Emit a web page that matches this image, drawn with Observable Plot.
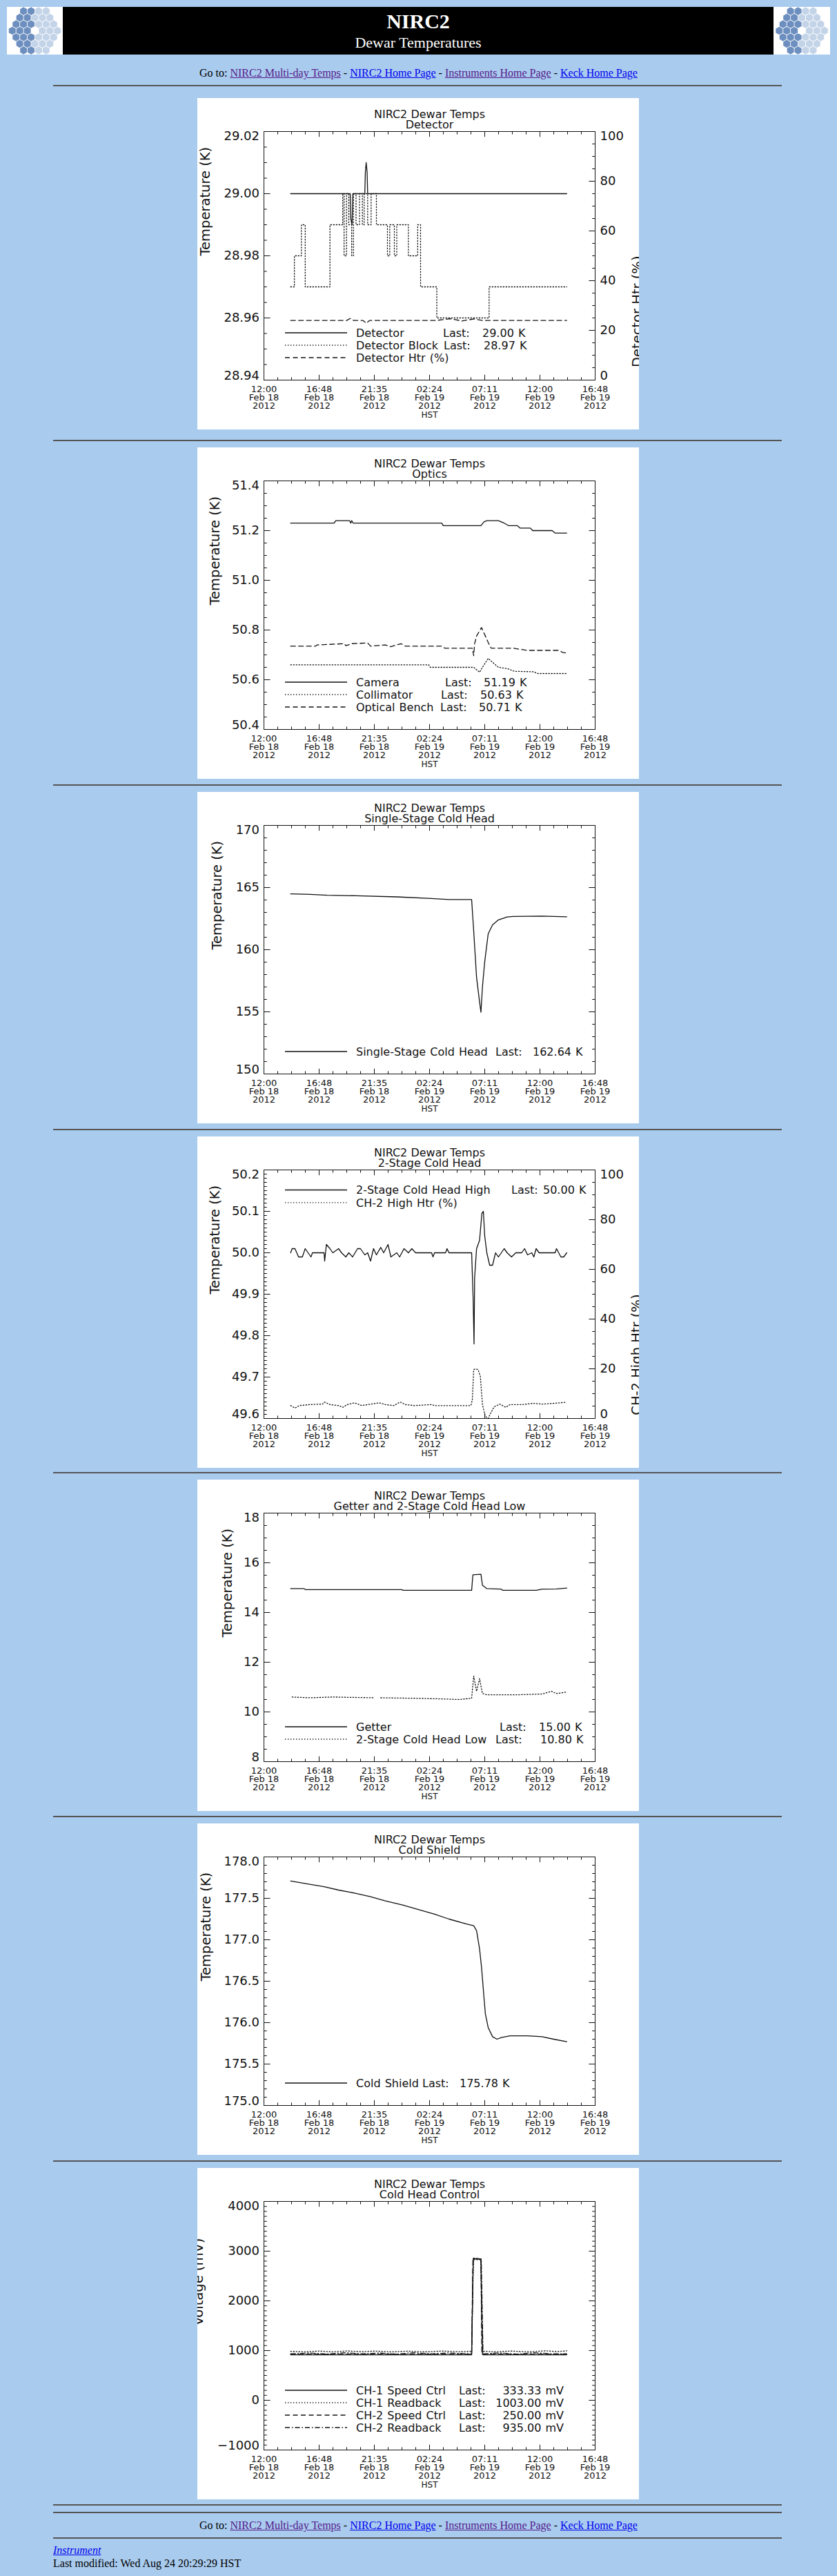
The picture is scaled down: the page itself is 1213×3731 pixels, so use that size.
<!DOCTYPE html>
<html>
<head>
<meta charset="utf-8">
<title>NIRC2 Dewar Temperatures</title>
<script src="https://cdn.jsdelivr.net/npm/d3@7"></script>
<script src="https://cdn.jsdelivr.net/npm/@observablehq/plot@0.6"></script>
<style>
  html, body { margin: 0; padding: 0; }
  body { background: #a9cbee; width: 1213px; height: 3731px; position: relative; overflow: hidden;
         font-family: "Liberation Serif", "Times New Roman", serif; color: #000; }
  .abs { position: absolute; }
  .hr { position: absolute; left: 77px; width: 1056px; height: 0; border-top: 2px solid #555; }
  .nav { position: absolute; left: 0; width: 1213px; text-align: center; font-size: 16px; line-height: 16px; }
  a { text-decoration: underline; }
  a.v { color: #551a8b; }
  a.u { color: #0000ee; }
  .panel { position: absolute; left: 286px; width: 640px; height: 480px; background: #fff; overflow: hidden; }
  .logo { position: absolute; top: 10px; height: 69px; background: #fff; overflow: hidden; }
  .banner { position: absolute; left: 91px; top: 10px; width: 1030px; height: 69px; background: #000; color: #fff; text-align: center; }
</style>
</head>
<body>
<div class="logo" id="logoL" style="left:10px;width:81px"></div>
<div class="banner">
  <div class="abs" style="left:0;width:1030px;top:6px;font-size:30px;line-height:30px;font-weight:bold;">NIRC2</div>
  <div class="abs" style="left:0;width:1030px;top:41px;font-size:22px;line-height:22px;">Dewar Temperatures</div>
</div>
<div class="logo" id="logoR" style="left:1121px;width:82px"></div>

<div class="nav" style="top:98px">Go to: <a class="v" href="#">NIRC2 Multi-day Temps</a> - <a class="u" href="#">NIRC2 Home Page</a> - <a class="v" href="#">Instruments Home Page</a> - <a class="u" href="#">Keck Home Page</a></div>
<div class="hr" style="top:123px"></div>

<div class="panel" id="c1" style="top:142px"></div>
<div class="hr" style="top:637px"></div>
<div class="panel" id="c2" style="top:648px"></div>
<div class="hr" style="top:1136px"></div>
<div class="panel" id="c3" style="top:1147px"></div>
<div class="hr" style="top:1635px"></div>
<div class="panel" id="c4" style="top:1646px"></div>
<div class="hr" style="top:2132px"></div>
<div class="panel" id="c5" style="top:2143px"></div>
<div class="hr" style="top:2630px"></div>
<div class="panel" id="c6" style="top:2641px"></div>
<div class="hr" style="top:3129px"></div>
<div class="panel" id="c7" style="top:3140px"></div>
<div class="hr" style="top:3627px"></div>
<div class="hr" style="top:3638px"></div>
<div class="nav" style="top:3650px">Go to: <a class="v" href="#">NIRC2 Multi-day Temps</a> - <a class="u" href="#">NIRC2 Home Page</a> - <a class="v" href="#">Instruments Home Page</a> - <a class="u" href="#">Keck Home Page</a></div>
<div class="hr" style="top:3675px"></div>
<div class="abs" style="left:77px;top:3686px;font-size:16px;line-height:16px;"><a class="u" href="#"><i>Instrument</i></a></div>
<div class="abs" style="left:77px;top:3705px;font-size:16px;line-height:16px;">Last modified: Wed Aug 24 20:29:29 HST</div>

<script>
// ---------------- DATA (x = hours after 12:00 HST, Feb 18 2012) ----------------
const xMajorHours = [0, 4.8, 9.6, 14.4, 19.2, 24, 28.8];
const xTickLabels = ["12:00\nFeb 18\n2012", "16:48\nFeb 18\n2012", "21:35\nFeb 18\n2012",
  "02:24\nFeb 19\n2012", "07:11\nFeb 19\n2012", "12:00\nFeb 19\n2012", "16:48\nFeb 19\n2012"];

// Detector panel
const detector = [[2.32,29.00],[7.50,29.00],[7.55,28.992],[7.66,28.990],[7.73,29.00],[8.77,29.00],
  [8.82,29.007],[8.89,29.010],[8.97,29.007],[9.02,29.00],[26.33,29.00]];
const detectorBlock = [[2.32,28.97],[2.65,28.98],[3.26,28.99],[3.59,28.97],[5.74,28.99],[6.85,29.00],
  [6.97,28.98],[7.18,29.00],[7.38,28.99],[7.63,28.98],[7.78,29.00],[8.01,28.99],[8.31,29.00],[8.56,28.99],
  [8.72,29.00],[9.02,28.99],[9.32,29.00],[9.58,29.00],[9.78,28.99],[10.74,28.98],[10.94,28.99],[11.34,28.98],
  [11.55,28.99],[12.56,28.98],[13.37,28.99],[13.62,28.97],[15.03,28.96],[19.58,28.97],[26.33,28.97]];
const detectorHtr = [[2.32,24],[7.2,24],[7.5,24.8],[7.8,24],[8.6,24],[8.9,22.9],[9.2,24],[15,24],
  [16.2,24.7],[17.2,23.8],[18.3,24.6],[19,24],[26.33,24]];

// Optics panel
const camera = [[2.32,51.23],[6.11,51.23],[6.24,51.24],[7.45,51.24],[7.55,51.23],[7.63,51.24],[7.76,51.23],
  [15.46,51.23],[15.59,51.22],[18.87,51.22],[19.13,51.235],[19.38,51.24],[20.39,51.24],[20.89,51.23],
  [21.27,51.22],[22.03,51.22],[22.28,51.21],[23.17,51.21],[23.37,51.20],[25.06,51.20],[25.32,51.19],[26.33,51.19]];
const collimator = [[2.32,50.66],[14.33,50.66],[14.45,50.65],[18.24,50.65],[18.75,50.63],[19.0,50.65],
  [19.5,50.686],[20.01,50.665],[20.39,50.65],[21.15,50.645],[21.78,50.634],[23.42,50.632],[23.8,50.625],[26.33,50.625]];
const opticalBench = [[2.32,50.735],[4.5,50.735],[4.6,50.74],[7.0,50.745],[7.12,50.737],[7.63,50.745],
  [9.02,50.748],[9.27,50.735],[10.54,50.74],[11.04,50.733],[11.55,50.74],[11.93,50.745],[12.30,50.735],
  [15.46,50.735],[15.72,50.727],[18.12,50.727],[18.24,50.697],[18.32,50.745],[18.49,50.776],[18.92,50.81],
  [19.25,50.776],[19.5,50.75],[19.76,50.727],[21.65,50.727],[22.92,50.718],[25.69,50.718],[25.95,50.71],[26.33,50.707]];

// Single-stage cold head
const coldHead1 = [[2.32,164.49],[4.0,164.45],[5.5,164.38],[8.0,164.34],[11.55,164.25],[14.58,164.12],
  [16.09,164.04],[18.06,164.03],[18.24,161.5],[18.49,157.76],[18.75,155.8],[18.87,154.97],[19.0,157.0],
  [19.2,159.05],[19.5,161.28],[19.88,162.0],[20.39,162.4],[21.15,162.63],[21.65,162.67],[24.18,162.7],[26.33,162.65]];

// 2-stage cold head
const coldHead2High = [[2.32,50.00],[2.45,50.01],[2.70,50.01],[3.01,49.99],[3.34,49.99],[3.59,50.01],[3.84,50.00],
  [4.09,49.99],[4.22,50.00],[5.23,50.00],[5.28,49.98],[5.43,50.02],[5.74,50.01],[5.99,50.00],[6.49,50.01],
  [6.75,50.00],[7.12,49.99],[7.38,50.00],[7.71,49.99],[8.14,50.01],[8.39,50.01],[8.77,49.995],[9.02,50.00],
  [9.27,49.98],[9.53,50.01],[9.78,49.995],[10.16,50.013],[10.41,50.00],[10.79,50.02],[11.04,49.99],[11.55,50.00],
  [11.80,49.99],[12.18,50.01],[12.56,50.00],[12.86,50.01],[13.19,50.00],[14.58,50.00],[14.70,49.99],[14.83,50.00],
  [15.79,50.00],[15.92,50.01],[16.09,50.00],[18.06,50.00],[18.12,49.95],[18.19,49.89],[18.27,49.78],[18.32,49.94],
  [18.49,50.01],[18.75,50.03],[18.95,50.095],[19.08,50.10],[19.20,50.04],[19.38,50.00],[19.63,49.97],[19.88,49.97],
  [20.14,50.00],[20.39,49.99],[20.64,50.00],[20.89,50.01],[21.15,50.00],[21.53,49.99],[21.90,50.00],[22.41,50.00],
  [22.66,50.01],[22.92,49.995],[23.29,50.00],[23.47,49.99],[23.67,50.01],[23.93,50.00],[25.32,50.00],[25.44,50.01],
  [25.82,49.99],[26.07,49.99],[26.33,50.00]];
const ch2HighHtr = [[2.32,5.2],[2.70,4.2],[3.08,5.2],[3.97,5.6],[5.10,5.8],[5.28,6.6],[5.74,5.6],[6.49,5.2],
  [6.87,4.5],[7.25,5.6],[7.88,6.3],[8.51,5.2],[9.02,5.6],[10.03,6.3],[10.54,5.6],[11.29,5.2],[11.85,6.6],
  [12.30,5.6],[13.06,5.2],[14.58,5.6],[14.83,5.2],[17.99,5.2],[18.12,7.5],[18.24,19.7],[18.37,19.9],[18.62,19.7],
  [18.82,16.9],[19.0,5.6],[19.25,0.9],[19.5,0],[19.63,1.4],[20.01,4.7],[20.52,5.8],[21.02,4.5],[21.4,5.6],
  [22.41,5.6],[23.42,6.1],[24.18,5.8],[25.19,6.1],[25.95,6.4],[26.33,6.6]];

// Getter and 2-stage cold head low
const getter = [[2.32,14.96],[3.5,14.96],[3.6,14.92],[12.0,14.92],[12.1,14.89],[18.06,14.89],[18.17,15.52],
  [18.87,15.54],[19.0,15.1],[19.38,14.96],[20.64,14.94],[20.77,14.89],[23.67,14.89],[24.18,14.94],[25.44,14.95],[26.33,14.98]];
const coldHead2Low = [[2.45,10.60],[4.0,10.57],[6.0,10.60],[9.5,10.57],[9.8,null],[10.16,10.57],[13.0,10.55],
  [15.0,10.53],[17.0,10.50],[18.06,10.55],[18.24,11.44],[18.49,10.83],[18.75,11.34],[19.0,10.74],[19.38,10.69],
  [22.0,10.69],[24.2,10.72],[25.0,10.83],[25.44,10.74],[26.33,10.80]];

// Cold shield
const coldShield = [[2.32,177.71],[3.97,177.67],[5.23,177.64],[6.49,177.60],[8.01,177.56],[9.27,177.52],
  [10.54,177.47],[12.05,177.42],[13.57,177.36],[14.83,177.31],[16.09,177.25],[17.61,177.19],[18.24,177.17],
  [18.49,177.11],[18.75,176.89],[18.92,176.67],[19.13,176.31],[19.25,176.11],[19.5,175.94],[19.88,175.83],
  [20.26,175.80],[20.64,175.82],[21.4,175.84],[22.92,175.84],[24.18,175.83],[25.19,175.80],[26.33,175.77]];

// Cold head control (mV)
const ch1SpeedCtrl = [[2.32,915],[18.06,915],[18.2,2850],[18.87,2840],[19.0,940],[19.05,915],[26.33,915]];
const ch1Readback = [[2.32,985],[3.5,975],[4.8,990],[6.0,975],[7.2,992],[8.5,978],[9.6,990],[11.0,975],[12.5,988],
  [14.0,975],[15.5,990],[17.0,978],[18.06,985],[18.22,2830],[18.85,2830],[19.0,990],[20.0,975],[21.5,990],
  [23.0,975],[24.5,995],[25.5,980],[26.33,995]];
const ch2SpeedCtrl = [[2.32,925],[18.06,925],[18.17,2850],[18.87,2850],[18.95,925],[26.33,925]];
const ch2Readback = [[2.32,935],[4.0,950],[5.5,930],[7.0,955],[8.5,935],[10.0,950],[11.5,930],[13.0,955],
  [14.5,935],[16.0,950],[18.06,935],[18.2,2860],[18.9,2840],[19.05,935],[20.5,950],[22.0,930],[23.5,955],
  [25.0,935],[26.33,935]];

// ---------------- RENDERING ----------------
const FONT = "'DejaVu Sans', 'Liberation Sans', Arial, sans-serif";
const INK = "#111";
const DASH = { solid: null, dotted: "1.3,2.7", dashed: "7,4.5", dashdot: "7,3,1.5,3" };
const xMinorHours = d3.range(25).map(i => i * 1.2);

function edgeLabels(values, fmt, opts) {
  const n = values.length;
  const base = { y: d => d, fontSize: 18, text: fmt, ...opts };
  return [
    Plot.text(values.slice(1, n - 1), base),
    Plot.text([values[n - 1]], { ...base, dy: 6.5 }),
    Plot.text([values[0]], { ...base, dy: -6 })
  ];
}

function buildChart(cfg) {
  const [lo, hi] = cfg.yDomain;
  const steps = (a, b, step, map) => d3.range(Math.round((b - a) / step) + 1).map(i => map(a + i * step));
  const R = cfg.right;
  const toL = R ? v => lo + (v - R.domain[0]) / (R.domain[1] - R.domain[0]) * (hi - lo) : v => v;
  const fromL = R ? v => R.domain[0] + (v - lo) / (hi - lo) * (R.domain[1] - R.domain[0]) : v => v;
  const yMaj = steps(lo, hi, cfg.yMajor, v => v), yMin = steps(lo, hi, cfg.yMinor, v => v);
  const rMaj = R ? steps(R.domain[0], R.domain[1], R.major, toL) : yMaj;
  const rMin = R ? steps(R.domain[0], R.domain[1], R.minor, toL) : yMin;

  const marks = [
    Plot.frame({ stroke: INK, strokeWidth: 1 }),
    ...cfg.series.map(s => Plot.line(s.data, {
      x: d => d[0],
      y: d => d[1] == null ? null : (s.right ? toL(d[1]) : d[1]),
      stroke: INK, strokeWidth: 1.3, strokeDasharray: DASH[s.style], curve: s.curve || "linear"
    })),
    Plot.axisX(xMinorHours, { anchor: "bottom", tickSize: -3.6, fill: "none", label: null }),
    Plot.axisX(xMajorHours, { anchor: "bottom", tickSize: -7.2, fill: "none", label: null }),
    Plot.axisX(xMinorHours, { anchor: "top", tickSize: -3.6, fill: "none", label: null }),
    Plot.axisX(xMajorHours, { anchor: "top", tickSize: -7.2, fill: "none", label: null }),
    Plot.axisY(yMin, { anchor: "left", tickSize: -4.8, fill: "none", label: null }),
    Plot.axisY(yMaj, { anchor: "left", tickSize: -9.6, fill: "none", label: null }),
    Plot.axisY(rMin, { anchor: "right", tickSize: -4.8, fill: "none", label: null }),
    Plot.axisY(rMaj, { anchor: "right", tickSize: -9.6, fill: "none", label: null }),
    Plot.text(xMajorHours, { x: d => d, frameAnchor: "bottom", dy: 9.5, lineAnchor: "top", lineHeight: 0.9,
      fontSize: 13, text: (d, i) => xTickLabels[i] }),
    Plot.text(["HST"], { frameAnchor: "bottom", dy: 54, fontSize: 12, text: d => d }),
    Plot.text(["NIRC2 Dewar Temps"], { frameAnchor: "top", dy: -31, fontSize: 16, text: d => d }),
    Plot.text([cfg.subtitle], { frameAnchor: "top", dy: -16, fontSize: 16, text: d => d }),
    Plot.text([cfg.yTitle], { frameAnchor: "left", rotate: -90, dx: cfg.yTitleDx, fontSize: 19.5, text: d => d }),
    ...edgeLabels(yMaj, cfg.yFormat, { frameAnchor: "left", dx: -6.5, textAnchor: "end" })
  ];
  if (R) {
    marks.push(...edgeLabels(rMaj, d => String(Math.round(fromL(d))), { frameAnchor: "right", dx: 7, textAnchor: "start" }));
    marks.push(Plot.text([R.title], { frameAnchor: "right", rotate: -90, dx: R.titleDx, fontSize: 19.5, text: d => d }));
  }

  const svg = Plot.plot({
    width: 640, height: 480,
    marginLeft: 96, marginRight: 64, marginTop: 48, marginBottom: 72,
    x: { domain: [0, 28.8], axis: null, label: null },
    y: { domain: [lo, hi], axis: null, label: null },
    style: { background: "white", color: INK, fontFamily: FONT, overflow: "hidden" },
    marks
  });

  // legend (drawn inside the plot area, as in the original IDL image)
  const g = d3.select(svg).append("g").attr("font-family", FONT).attr("font-size", 16)
    .attr("text-anchor", "start").attr("word-spacing", "1px").attr("fill", INK);
  const rows = cfg.legend.rows, n = rows.length;
  rows.forEach((r, i) => {
    const y = cfg.legend.top != null ? cfg.legend.top + i * 18.3 : 376 - (n - 1 - i) * 18;
    g.append("line").attr("x1", 127).attr("x2", 217).attr("y1", y).attr("y2", y)
      .attr("stroke", INK).attr("stroke-width", 1.3).attr("stroke-dasharray", DASH[r.style]);
    g.append("text").attr("x", 230).attr("y", y).attr("dy", "0.36em").attr("text-anchor", "start").text(r.name);
    if (r.last != null) {
      g.append("text").attr("x", r.lastX).attr("y", y).attr("dy", "0.36em").attr("text-anchor", "start").text("Last:");
      g.append("text").attr("x", r.valX).attr("y", y).attr("dy", "0.36em")
        .attr("text-anchor", r.valAnchor || "start").text(r.last);
    }
  });
  return svg;
}

const charts = [
  { id: "c1", subtitle: "Detector", yDomain: [28.94, 29.02], yMajor: 0.02, yMinor: 0.005, yFormat: d3.format(".2f"),
    yTitle: "Temperature (K)", yTitleDx: -85,
    right: { domain: [0, 100], major: 20, minor: 5, title: "Detector Htr (%)", titleDx: 61 },
    series: [
      { data: detector, style: "solid" },
      { data: detectorBlock, style: "dotted", curve: "step-after" },
      { data: detectorHtr, style: "dashed", right: true }
    ],
    legend: { rows: [
      { name: "Detector", style: "solid", last: "29.00 K", lastX: 356, valX: 413 },
      { name: "Detector Block", style: "dotted", last: "28.97 K", lastX: 357, valX: 415 },
      { name: "Detector Htr (%)", style: "dashed" }
    ] } },
  { id: "c2", subtitle: "Optics", yDomain: [50.4, 51.4], yMajor: 0.2, yMinor: 0.05, yFormat: d3.format(".1f"),
    yTitle: "Temperature (K)", yTitleDx: -71,
    series: [
      { data: camera, style: "solid" },
      { data: collimator, style: "dotted" },
      { data: opticalBench, style: "dashed" }
    ],
    legend: { rows: [
      { name: "Camera", style: "solid", last: "51.19 K", lastX: 359, valX: 415 },
      { name: "Collimator", style: "dotted", last: "50.63 K", lastX: 353, valX: 410 },
      { name: "Optical Bench", style: "dashed", last: "50.71 K", lastX: 352, valX: 408 }
    ] } },
  { id: "c3", subtitle: "Single-Stage Cold Head", yDomain: [150, 170], yMajor: 5, yMinor: 1, yFormat: d3.format(".0f"),
    yTitle: "Temperature (K)", yTitleDx: -67.5,
    series: [{ data: coldHead1, style: "solid" }],
    legend: { rows: [
      { name: "Single-Stage Cold Head", style: "solid", last: "162.64 K", lastX: 432, valX: 486 }
    ] } },
  { id: "c4", subtitle: "2-Stage Cold Head", yDomain: [49.6, 50.2], yMajor: 0.1, yMinor: 0.01, yFormat: d3.format(".1f"),
    yTitle: "Temperature (K)", yTitleDx: -71,
    right: { domain: [0, 100], major: 20, minor: 5, title: "CH-2 High Htr (%)", titleDx: 60 },
    series: [
      { data: coldHead2High, style: "solid" },
      { data: ch2HighHtr, style: "dotted", right: true }
    ],
    legend: { top: 77.5, rows: [
      { name: "2-Stage Cold Head High", style: "solid", last: "50.00 K", lastX: 455, valX: 501 },
      { name: "CH-2 High Htr (%)", style: "dotted" }
    ] } },
  { id: "c5", subtitle: "Getter and 2-Stage Cold Head Low", yDomain: [8, 18], yMajor: 2, yMinor: 0.5, yFormat: d3.format(".0f"),
    yTitle: "Temperature (K)", yTitleDx: -52.5,
    series: [
      { data: getter, style: "solid" },
      { data: coldHead2Low, style: "dotted" }
    ],
    legend: { rows: [
      { name: "Getter", style: "solid", last: "15.00 K", lastX: 438, valX: 495 },
      { name: "2-Stage Cold Head Low", style: "dotted", last: "10.80 K", lastX: 432, valX: 497 }
    ] } },
  { id: "c6", subtitle: "Cold Shield", yDomain: [175, 178], yMajor: 0.5, yMinor: 0.1, yFormat: d3.format(".1f"),
    yTitle: "Temperature (K)", yTitleDx: -84,
    series: [{ data: coldShield, style: "solid" }],
    legend: { rows: [
      { name: "Cold Shield", style: "solid", last: "175.78 K", lastX: 326, valX: 380 }
    ] } },
  { id: "c7", subtitle: "Cold Head Control", yDomain: [-1000, 4000], yMajor: 1000, yMinor: 100, yFormat: d3.format(".0f"),
    yTitle: "Voltage (mV)", yTitleDx: -94.8,
    series: [
      { data: ch1SpeedCtrl, style: "solid" },
      { data: ch1Readback, style: "dotted" },
      { data: ch2SpeedCtrl, style: "dashed" },
      { data: ch2Readback, style: "dashdot" }
    ],
    legend: { rows: [
      { name: "CH-1 Speed Ctrl", style: "solid", last: "333.33 mV", lastX: 379, valX: 531, valAnchor: "end" },
      { name: "CH-1 Readback", style: "dotted", last: "1003.00 mV", lastX: 379, valX: 531, valAnchor: "end" },
      { name: "CH-2 Speed Ctrl", style: "dashed", last: "250.00 mV", lastX: 379, valX: 531, valAnchor: "end" },
      { name: "CH-2 Readback", style: "dashdot", last: "935.00 mV", lastX: 379, valX: 531, valAnchor: "end" }
    ] } }
];

for (const cfg of charts) {
  document.getElementById(cfg.id).appendChild(buildChart(cfg));
}

// Keck hex-mirror logos (decorative)
function drawLogo(id, w) {
  const svg = d3.select("#" + id).append("svg").attr("width", w).attr("height", 69);
  const s = 6.3, cx = w / 2, cy = 34.5;
  const hex = d3.range(6).map(k => {
    const a = Math.PI / 180 * (60 * k - 30);
    return [Math.cos(a) * s * 0.92, Math.sin(a) * s * 0.92];
  });
  for (let q = -3; q <= 3; q++) for (let r = -3; r <= 3; r++) {
    const d = Math.max(Math.abs(q), Math.abs(r), Math.abs(-q - r));
    if (d < 1 || d > 3) continue;
    const x = cx + s * Math.sqrt(3) * (q + r / 2), y = cy + 1.5 * s * r;
    svg.append("path")
      .attr("d", "M" + hex.map(p => [x + p[0], y + p[1]].join(",")).join("L") + "Z")
      .attr("fill", x < cx - 2 ? "#6d8fbf" : "#c4d4e8");
  }
}
drawLogo("logoL", 81);
drawLogo("logoR", 82);
</script>
</body>
</html>
